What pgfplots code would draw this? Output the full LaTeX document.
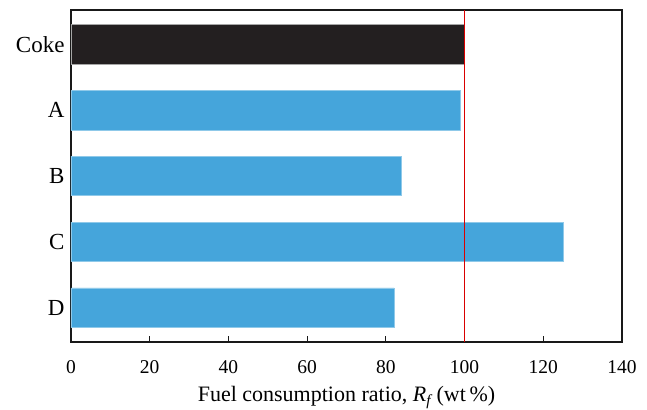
\documentclass[border=0pt]{standalone}
\usepackage{pgfplots}
\pgfplotsset{compat=1.18}
\usepackage{fontspec}
\setmainfont{Liberation Serif}
\definecolor{barblue}{HTML}{45A5DB}
\definecolor{barblack}{HTML}{231F20}
\begin{document}
\begin{tikzpicture}
\begin{axis}[
  scale only axis,
  width=551pt, height=332pt,
  xmin=0, xmax=140,
  ymin=-0.52, ymax=4.52,
  y dir=reverse,
  xtick={0,20,...,140},
  ytick={0,1,2,3,4},
  yticklabels={Coke,A,B,C,D},
  tick align=inside,
  xtick pos=bottom,
  ytick pos=left,
  major tick length=6pt,
  ytick style={draw=none},
  axis line style={line width=1.6pt, black!90},
  xtick style={line width=1.2pt, black!90},
  /pgf/number format/assume math mode=true,
  xticklabel style={font=\fontsize{19.5}{22}\selectfont, yshift=-15pt},
  yticklabel style={font=\fontsize{23}{26}\selectfont, xshift=-3pt},
  xlabel={Fuel consumption ratio, \textit{R}\textsubscript{\textit{f}}\,(wt\,\%)},
  xlabel style={font=\fontsize{22}{26}\selectfont, yshift=-6pt},
  clip=false,
]
\addplot[xbar, bar shift=0pt, bar width=0.6, fill=barblack, draw=black!35, line width=0.6pt]
  coordinates {(100,0)};
\addplot[xbar, bar shift=0pt, bar width=0.6, fill=barblue, draw=barblue!60, line width=0.6pt]
  coordinates {(98.8,1) (84,2) (125,3) (82.1,4)};
\addplot[red!85!black, line width=0.7pt] coordinates {(100,-0.52) (100,4.52)};
\coordinate (bl) at (rel axis cs:0,0);
\coordinate (tr) at (rel axis cs:1,1);
\end{axis}
\pgfresetboundingbox
\path ([shift={(-71pt,-67pt)}]bl) rectangle ([shift={(25pt,10pt)}]tr);
\end{tikzpicture}
\end{document}
